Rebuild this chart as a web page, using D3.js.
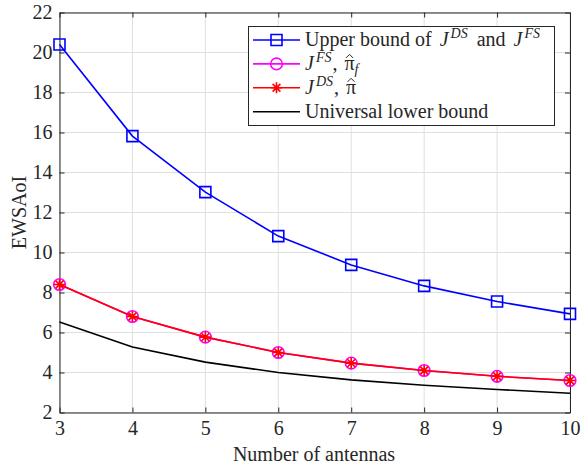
<!DOCTYPE html>
<html>
<head>
<meta charset="utf-8">
<script src="https://cdn.jsdelivr.net/npm/d3@7"></script>
<style>
  body { margin: 0; background: #fff; }
  svg text { font-family: "Liberation Serif", "DejaVu Serif", serif !important; }
</style>
</head>
<body>
<script>
  // data
  let antennas = [3, 4, 5, 6, 7, 8, 9, 10];
  let upperBound = [20.4, 15.82, 13.02, 10.82, 9.38, 8.33, 7.55, 6.93];
  let jFS = [8.4, 6.8, 5.77, 5.0, 4.47, 4.1, 3.81, 3.6];
  let jDS = [8.4, 6.8, 5.77, 5.0, 4.47, 4.1, 3.81, 3.6];
  let lowerBound = [6.52, 5.27, 4.52, 4.0, 3.63, 3.36, 3.15, 2.96];
  let yTicks = [2, 4, 6, 8, 10, 12, 14, 16, 18, 20, 22];

  let width = 582, height = 466;
  let plotLeft = 59.5, plotRight = 570, plotTop = 12.5, plotBottom = 412.5;
  let axisColor = "#262626";
  let fontSize = "20px";

  let svg = d3.select("body").append("svg")
    .attr("width", width)
    .attr("height", height);

  let x = d3.scaleLinear().domain([3, 10]).range([plotLeft, plotRight]);
  let y = d3.scaleLinear().domain([2, 22]).range([plotBottom, plotTop]);

  // grid
  svg.append("g")
    .selectAll("line")
    .data(antennas)
    .enter().append("line")
      .attr("x1", d => x(d)).attr("x2", d => x(d))
      .attr("y1", plotTop).attr("y2", plotBottom)
      .attr("stroke", "#dfdfdf").attr("stroke-width", 1);
  svg.append("g")
    .selectAll("line")
    .data(yTicks)
    .enter().append("line")
      .attr("x1", plotLeft).attr("x2", plotRight)
      .attr("y1", d => y(d)).attr("y2", d => y(d))
      .attr("stroke", "#dfdfdf").attr("stroke-width", 1);

  // axes with inward ticks on all four sides
  function styleAxis(g) {
    g.attr("font-family", null);
    g.selectAll("path.domain").attr("stroke", axisColor).attr("stroke-width", 1);
    g.selectAll(".tick line").attr("stroke", axisColor);
    g.selectAll(".tick text").attr("fill", axisColor).style("font-size", fontSize);
  }

  svg.append("g")
    .attr("transform", `translate(0,${plotBottom})`)
    .call(d3.axisBottom(x).tickValues(antennas).tickSizeInner(-5).tickSizeOuter(0).tickPadding(8).tickFormat(d3.format("d")))
    .call(styleAxis);
  svg.append("g")
    .attr("transform", `translate(0,${plotTop})`)
    .call(d3.axisTop(x).tickValues(antennas).tickSizeInner(-5).tickSizeOuter(0).tickFormat(""))
    .call(styleAxis);
  svg.append("g")
    .attr("transform", `translate(${plotLeft},0)`)
    .call(d3.axisLeft(y).tickValues(yTicks).tickSizeInner(-5).tickSizeOuter(0).tickPadding(7).tickFormat(d3.format("d")))
    .call(styleAxis);
  svg.append("g")
    .attr("transform", `translate(${plotRight},0)`)
    .call(d3.axisRight(y).tickValues(yTicks).tickSizeInner(-5).tickSizeOuter(0).tickFormat(""))
    .call(styleAxis);

  // axis labels
  svg.append("text")
    .attr("x", 314)
    .attr("y", 461)
    .attr("text-anchor", "middle")
    .attr("fill", axisColor)
    .style("font-size", fontSize)
    .text("Number of antennas");
  svg.append("text")
    .attr("transform", `translate(26,${(plotTop + plotBottom) / 2})rotate(-90)`)
    .attr("text-anchor", "middle")
    .attr("fill", axisColor)
    .style("font-size", fontSize)
    .text("EWSAoI");

  let line = d3.line()
    .x((d, i) => x(antennas[i]))
    .y(d => y(d));

  // marker shapes
  function squarePath(s) { return `M${-s},${-s}H${s}V${s}H${-s}Z`; }
  function starPath(r) {
    let a = r * Math.SQRT1_2;
    return `M${-r},0H${r}M0,${-r}V${r}M${-a},${-a}L${a},${a}M${-a},${a}L${a},${-a}`;
  }

  function squareMarker(g, color) {
    g.append("path").attr("d", squarePath(5.5)).attr("fill", "none")
      .attr("stroke", color).attr("stroke-width", 1.6);
  }
  function circleMarker(g, color) {
    g.append("circle").attr("r", 5.8).attr("fill", "none")
      .attr("stroke", color).attr("stroke-width", 1.6);
  }
  function starMarker(g, color) {
    g.append("path").attr("d", starPath(5.5)).attr("fill", "none")
      .attr("stroke", color).attr("stroke-width", 1.6);
  }

  function drawSeries(values, color, marker) {
    svg.append("path")
      .datum(values)
      .attr("d", line)
      .attr("fill", "none")
      .attr("stroke", color)
      .attr("stroke-width", 1.6);
    if (!marker) return;
    let g = svg.append("g");
    values.forEach((v, i) => {
      let m = g.append("g").attr("transform", `translate(${x(antennas[i])},${y(v)})`);
      marker(m, color);
    });
  }

  drawSeries(upperBound, "#0000ff", squareMarker);
  drawSeries(jFS, "#ff00ff", circleMarker);
  drawSeries(jDS, "#ff0000", starMarker);
  drawSeries(lowerBound, "#000000", null);

  // legend
  let lg = svg.append("g");
  lg.append("rect")
    .attr("x", 248.5).attr("y", 26.5)
    .attr("width", 306).attr("height", 99)
    .attr("fill", "#fff").attr("stroke", axisColor).attr("stroke-width", 1);

  // [text, style, extra space before]; "hat" pieces get a drawn circumflex
  let legendItems = [
    { color: "#0000ff", marker: squareMarker, parts: [["Upper bound of", "", 0], ["J", "i", 8], ["DS", "sup", 2], ["and", "", 9], ["J", "i", 8], ["FS", "sup", 2]] },
    { color: "#ff00ff", marker: circleMarker, parts: [["J", "i", 0], ["FS", "sup", 2], [",", "", 1], ["\u03C0", "hat", 7], ["f", "sub", 0]] },
    { color: "#ff0000", marker: starMarker, parts: [["J", "i", 0], ["DS", "sup", 2], [",", "", 1], ["\u03C0", "hat", 7]] },
    { color: "#000000", marker: null, parts: [["Universal lower bound", "", 0]] }
  ];

  legendItems.forEach((item, i) => {
    let cy = 40 + i * 23.9;
    let baseY = cy + 6;
    lg.append("line")
      .attr("x1", 253).attr("x2", 300)
      .attr("y1", cy).attr("y2", cy)
      .attr("stroke", item.color).attr("stroke-width", 1.6);
    if (item.marker) {
      let m = lg.append("g").attr("transform", `translate(276.5,${cy})`);
      item.marker(m, item.color);
    }
    let t = lg.append("text")
      .attr("x", 305).attr("y", baseY)
      .attr("fill", axisColor)
      .style("font-size", fontSize);
    // shifted pieces move the baseline, the next piece moves it back
    let shift = 0;
    let hats = [];
    item.parts.forEach(p => {
      let ts = t.append("tspan").text(p[0]).attr("dx", p[2]);
      if (p[1] === "i") ts.style("font-style", "italic");
      if (p[1] === "sup") {
        ts.style("font-style", "italic").style("font-size", "14px").attr("dy", -8 - shift);
        shift = -8;
      } else if (p[1] === "sub") {
        ts.style("font-style", "italic").style("font-size", "14px").attr("dy", 4 - shift);
        shift = 4;
      } else if (shift !== 0) {
        ts.attr("dy", -shift);
        shift = 0;
      }
      if (p[1] === "hat") hats.push(ts);
    });
    hats.forEach(ts => {
      let node = ts.node();
      let x0 = node.getStartPositionOfChar(0).x;
      let w = node.getComputedTextLength();
      let cx = x0 + w / 2;
      lg.append("path")
        .attr("d", `M${cx - 3.5},${baseY - 12}L${cx},${baseY - 15.5}L${cx + 3.5},${baseY - 12}`)
        .attr("fill", "none")
        .attr("stroke", axisColor)
        .attr("stroke-width", 1);
    });
  });
</script>
</body>
</html>
